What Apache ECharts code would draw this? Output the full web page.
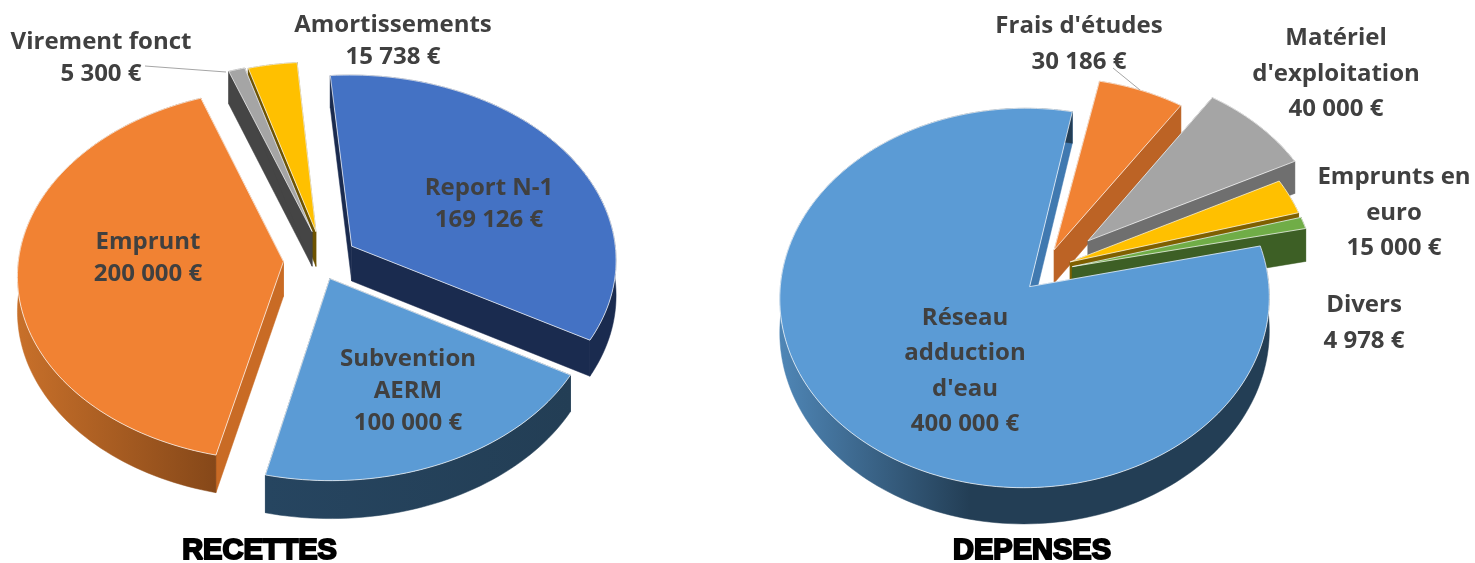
<!DOCTYPE html>
<html><head><meta charset="utf-8">
<style>html,body{margin:0;padding:0;background:#fff}#c{width:1475px;height:563px}</style>
<script src="https://cdn.jsdelivr.net/npm/echarts@6/dist/echarts.min.js"></script>
</head><body><div id="c"></div>
<script>
// ---- data (clockwise order)
const recettesCategories = ['Report N-1', 'Subvention\nAERM', 'Emprunt', 'Virement fonct', 'Amortissements'];
const recettesValues = [169126, 100000, 200000, 5300, 15738];
const depensesCategories = ["Réseau\nadduction\nd'eau", "Frais d'études", "Matériel\nd'exploitation", 'Emprunts en\neuro', 'Divers'];
const depensesValues = [400000, 30186, 40000, 15000, 4978];
const chartTitles = ['RECETTES', 'DEPENSES'];

// ---- styling and layout
const recettesStyle = {
  cx: 320.5, cy: 260, rx: 265, ry: 185, k: 0.07, depth: 35, startAngle: -4.5, lineHeight: 32,
  explode: [0.14, 0.115, 0.14, 0.14, 0.14],
  nudge: [[0, 0], [-3, -1], [0, 0], [3, -4], [2, -3]],
  apexShift: [[0, 0], [0, 0], [0, 0], [0, 0], [0, 0]],
  top: ['#4472c4', '#5b9bd5', '#f18233', '#a5a5a5', '#ffc000'],
  side: ['#1a2b4f', '#233f57', '#c96b25', '#454545', '#6e5300'],
  arc: [['#1a2b4f', '#1a2b4f'], ['#264560', '#233e55'], ['#c8702a', '#6f3a13'], ['#454545', '#454545'], ['#6e5300', '#6e5300']],
  labels: [[489, 204], [408, 391], [148, 258], [101, 58], [393, 41]],
  leader: { 3: [[145, 66], [226, 72]] }
};
const depensesStyle = {
  cx: 1042, cy: 272, rx: 243, ry: 187, k: 0.07, depth: 33.5, startAngle: 78, lineHeight: 35.5,
  explode: [0.095, 0.13, 0.255, 0.12, 0.12],
  nudge: [[-1, 0], [0, 0], [0, 0], [1, -2], [2, 0]],
  apexShift: [[5, 2], [0, 0], [0, 0], [0, 0], [0, 0]],
  top: ['#5b9bd5', '#f18233', '#a5a5a5', '#ffc000', '#70ad47'],
  side: ['#4079b0', '#bc6325', '#6f6f6f', '#7f6000', '#3d5f25'],
  arc: [['#4f86b6', '#233e55'], ['#bc6325', '#bc6325'], ['#6f6f6f', '#6f6f6f'], ['#7f6000', '#7f6000'], ['#3d5f25', '#3d5f25']],
  labels: [[965, 371], [1079, 44], [1336, 74], [1394, 213], [1364, 323]],
  leader: { 1: [[1113, 68], [1140, 90]] }
};
const labelFont = { fontFamily: '"Open Sans", sans-serif', fontWeight: 700, fontSize: 24, fill: '#404040' };

function euros(v) { return String(v).replace(/\B(?=(\d{3})+$)/g, ' ') + ' €'; }

function pieSeries(categories, values, st) {
  const total = values.reduce((a, b) => a + b, 0);
  let acc = st.startAngle;
  const slices = values.map(v => { const a0 = acc; acc += v / total * 360; return [a0, acc]; });
  const mid = s => (s[0] + s[1]) / 2 * Math.PI / 180;
  const order = values.map((_, i) => i).sort((a, b) => -Math.cos(mid(slices[a])) + Math.cos(mid(slices[b])));

  function project(U, V, drop, nudge) {
    const s = 1 / (1 - st.k * V);
    return [st.cx + nudge[0] + st.rx * U * s, st.cy + nudge[1] + st.ry * V * s + (drop ? st.depth * s : 0)];
  }
  function renderItem(params, api) {
    const i = api.value(1);
    const [a0, a1] = slices[i];
    const m = mid(slices[i]), e = st.explode[i];
    const ox = e * Math.sin(m), oy = -e * Math.cos(m);
    const at = (deg, r, drop) => {
      const t = deg * Math.PI / 180;
      return project(ox + r * Math.sin(t), oy - r * Math.cos(t), drop, st.nudge[i]);
    };
    const n = Math.max(4, Math.ceil((a1 - a0) / 1.5));
    const arcTop = [], arcBot = [];
    for (let j = 0; j <= n; j++) {
      const d = a0 + (a1 - a0) * j / n;
      arcTop.push(at(d, 1, false));
      arcBot.push(at(d, 1, true));
    }
    const sh = st.apexShift[i];
    const shift = p => [p[0] + sh[0], p[1] + sh[1]];
    const apex = shift(at(0, 0, false)), apexB = shift(at(0, 0, true));
    const xs = arcTop.map(p => p[0]).concat(apex[0]);
    let gx0 = Math.min.apply(null, xs), gx1 = Math.max.apply(null, xs);
    if (categories === depensesCategories && i === 0) { gx1 = gx0 + 190; }
    const arcFill = new echarts.graphic.LinearGradient(gx0, 0, gx1, 0,
      [{ offset: 0, color: st.arc[i][0] }, { offset: 1, color: st.arc[i][1] }], true);
    const poly = (points, fill) => ({
      type: 'polygon', shape: { points: points },
      style: { fill: fill, stroke: fill, lineWidth: 0.5 }
    });
    const children = [
      poly([apex, arcTop[0], arcBot[0], apexB], st.side[i]),
      poly([apex, arcTop[n], arcBot[n], apexB], st.side[i]),
      poly(arcTop.concat(arcBot.slice().reverse()), arcFill),
      { type: 'polygon', shape: { points: [apex].concat(arcTop) },
        style: { fill: st.top[i], stroke: 'rgba(255,255,255,0.7)', lineWidth: 1, lineJoin: 'round' } },
      { type: 'text', z2: 100, style: Object.assign({}, labelFont, {
          text: categories[i] + '\n' + euros(values[i]), lineHeight: st.lineHeight,
          x: st.labels[i][0], y: st.labels[i][1], align: 'center', verticalAlign: 'middle' }) }
    ];
    if (st.leader[i]) {
      const p = st.leader[i];
      children.push({ type: 'line', z2: 50,
        shape: { x1: p[0][0], y1: p[0][1], x2: p[1][0], y2: p[1][1] },
        style: { stroke: '#a6a6a6', lineWidth: 1 } });
    }
    return { type: 'group', children: children };
  }
  return {
    type: 'custom', coordinateSystem: 'none', silent: true, clip: false,
    data: order.map(i => [values[i], i]),
    renderItem: renderItem
  };
}

const titleStyle = {
  fontFamily: '"Liberation Sans", Arial, sans-serif', fontWeight: 900, fontSize: 29,
  color: '#000', textBorderColor: '#000', textBorderWidth: 2
};
const chart = echarts.init(document.getElementById('c'), null, { renderer: 'canvas' });
chart.setOption({
  animation: false,
  backgroundColor: '#fff',
  title: [
    { text: chartTitles[0], left: 259.5, top: 551, textAlign: 'center', textVerticalAlign: 'middle', textStyle: titleStyle, padding: 0 },
    { text: chartTitles[1], left: 1032, top: 551, textAlign: 'center', textVerticalAlign: 'middle', textStyle: titleStyle, padding: 0 }
  ],
  series: [
    pieSeries(recettesCategories, recettesValues, recettesStyle),
    pieSeries(depensesCategories, depensesValues, depensesStyle)
  ]
});
</script></body></html>
